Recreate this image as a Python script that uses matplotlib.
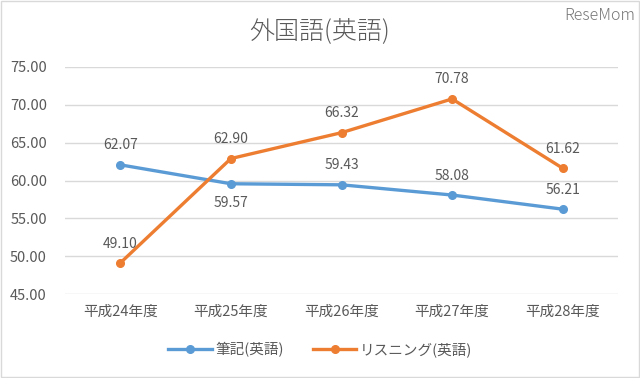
import matplotlib
matplotlib.use("Agg")
import matplotlib.pyplot as plt
from matplotlib.patches import Rectangle

plt.rcParams['font.family'] = ['Noto Sans CJK JP', 'DejaVu Sans']

categories = ["平成24年度", "平成25年度", "平成26年度", "平成27年度", "平成28年度"]
written = [62.07, 59.57, 59.43, 58.08, 56.21]
listening = [49.10, 62.90, 66.32, 70.78, 61.62]
written_label_pos = ["above", "below", "above", "above", "above"]
listening_label_pos = ["above", "above", "above", "above", "above"]
yticks = [45, 50, 55, 60, 65, 70, 75]

blue = "#5B9BD5"
orange = "#ED7D31"
text_c = "#595959"

fig = plt.figure(figsize=(6.4, 3.78), dpi=100)
ax = fig.add_axes([65/640, 1-294/378, (618-65)/640, (294-67)/378])

x = list(range(len(categories)))
ax.plot(x, written, color=blue, lw=2.4, marker="o", ms=5.5, label="筆記(英語)", zorder=3)
ax.plot(x, listening, color=orange, lw=2.4, marker="o", ms=5.5, label="リスニング(英語)", zorder=3)

for xi, v, pos in zip(x, written, written_label_pos):
    off = 14 if pos == "above" else -14
    ax.annotate(f"{v:.2f}", (xi, v), xytext=(0, off), textcoords="offset points",
                ha="center", va="center", fontsize=10, color=text_c)
for xi, v, pos in zip(x, listening, listening_label_pos):
    off = 14 if pos == "above" else -14
    ax.annotate(f"{v:.2f}", (xi, v), xytext=(0, off), textcoords="offset points",
                ha="center", va="center", fontsize=10, color=text_c)

ax.set_xlim(-0.5, len(categories) - 0.5)
ax.set_ylim(45, 75)
ax.set_yticks(yticks)
ax.set_yticklabels([f"{t:.2f}" for t in yticks])
ax.set_xticks(x)
ax.set_xticklabels(categories)
ax.tick_params(axis="both", length=0, labelsize=10.5, colors=text_c)
ax.tick_params(axis="y", pad=13)
ax.tick_params(axis="x", pad=8)
ax.grid(axis="y", color="#D9D9D9", lw=1)
ax.set_axisbelow(True)
for s in ax.spines.values():
    s.set_visible(False)

fig.text(0.5, 1-31/378, "外国語(英語)", ha="center", va="center", fontsize=18,
         color=text_c, fontweight="light")
fig.text(0.993, 1-15/378, "ReseMom", ha="right", va="center", fontsize=11.5,
         color="#777777", fontweight="light")

leg = fig.legend(loc="center", bbox_to_anchor=(0.5, 1-350/378), ncol=2, frameon=False,
                 fontsize=10.5, handlelength=3, columnspacing=2.0, handletextpad=0.2)
for t in leg.get_texts():
    t.set_color(text_c)

fig.patches.append(Rectangle((0.002, 0.003), 0.996, 0.994, transform=fig.transFigure,
                             fill=False, edgecolor="#D9D9D9", lw=1))

fig.savefig("out.png", dpi=100)
